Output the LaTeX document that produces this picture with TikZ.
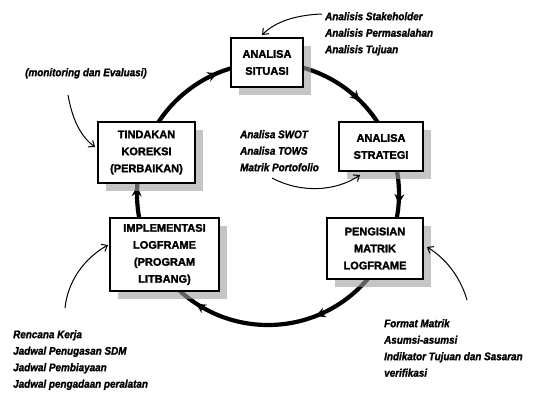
\documentclass[tikz,border=0pt]{standalone}
\usepackage{fontspec}
\setmainfont{Liberation Sans}
\newfontfamily\labfont{Liberation Sans}[FakeStretch=0.9,BoldItalicFeatures={FakeBold=1.5}]
\newfontfamily\boxfont{Liberation Sans}[BoldFeatures={FakeBold=2}]
\usetikzlibrary{arrows.meta,decorations.markings,shadows}
\tikzset{
  bigtip/.tip={Stealth[length=10pt,width=10pt,inset=3.5pt]},
  box/.style={draw=black, line width=1.8pt, fill=white, align=center,
    font=\boxfont\fontsize{11}{17}\selectfont\bfseries, inner sep=0pt,
    drop shadow={shadow xshift=8pt, shadow yshift=-8pt, fill=gray!75, fill opacity=0.6, draw=none}},
  lab/.style={align=left, font=\labfont\fontsize{11}{16.5}\selectfont\bfseries\itshape,
    inner sep=0pt, anchor=north west},
  thinarrow/.style={line width=1pt, -{Straight Barb[length=5pt,width=8pt]}},
}
\begin{document}
\begin{tikzpicture}[x=1pt,y=1pt]
\useasboundingbox (0,0) rectangle (544,-413);
% main cycle
\draw[line width=4.2pt, postaction={decorate},
  decoration={markings,
    mark=at position 0.1236 with {\arrow{bigtip}},
    mark=at position 0.2622 with {\arrow{bigtip}},
    mark=at position 0.441 with {\arrow{bigtip}},
    mark=at position 0.5925 with {\arrow{bigtip}},
    mark=at position 0.7594 with {\arrow{bigtip}},
    mark=at position 0.937 with {\arrow{bigtip}}}]
  (268,-194) ++(90:131) arc[start angle=90, end angle=-270, radius=131];
% boxes
\node[box, minimum width=72pt, minimum height=49pt] (sit) at (267,-62.5) {ANALISA\\SITUASI};
\node[box, minimum width=84pt, minimum height=49pt] (str) at (381,-146.5) {ANALISA\\STRATEGI};
\node[box, minimum width=97pt, minimum height=61pt] (tin) at (146.5,-152.5) {TINDAKAN\\KOREKSI\\(PERBAIKAN)};
\node[box, minimum width=109pt, minimum height=73pt] (imp) at (164.5,-254.5) {IMPLEMENTASI\\LOGFRAME\\(PROGRAM\\LITBANG)};
\node[box, minimum width=96pt, minimum height=61pt] (pen) at (375,-248.5) {PENGISIAN\\MATRIK\\LOGFRAME};
% labels
\node[lab] (l1) at (325,-12) {Analisis Stakeholder\\Analisis Permasalahan\\Analisis Tujuan};
\node[lab] (l2) at (25,-68) {(monitoring dan Evaluasi)};
\node[lab] (l3) at (240,-130) {Analisa SWOT\\Analisa TOWS\\Matrik Portofolio};
\node[lab] (l4) at (13,-330) {Rencana Kerja\\Jadwal Penugasan SDM\\Jadwal Pembiayaan\\Jadwal pengadaan peralatan};
\node[lab] (l5) at (384,-319) {Format Matrik\\Asumsi-asumsi\\Indikator Tujuan dan Sasaran\\verifikasi};
% thin arrows
\coordinate (s1) at (322,-14);  \coordinate (e1) at (262,-35);
\coordinate (s2) at (68,-95);   \coordinate (e2) at (95,-147);
\coordinate (s3) at (272,-178); \coordinate (e3) at (360,-175);
\coordinate (s4) at (65,-308);  \coordinate (e4) at (108,-245);
\coordinate (s5) at (467,-300); \coordinate (e5) at (427,-247);
\draw[thinarrow] (s1) .. controls (295,-15) and (275,-22) .. (e1);
\draw[thinarrow] (s2) .. controls (72,-118) and (80,-136) .. (e2);
\draw[thinarrow] (s3) .. controls (300,-193) and (335,-192) .. (e3);
\draw[thinarrow] (s4) .. controls (68,-280) and (85,-258) .. (e4);
\draw[thinarrow] (s5) .. controls (460,-276) and (445,-258) .. (e5);
\end{tikzpicture}
\end{document}
